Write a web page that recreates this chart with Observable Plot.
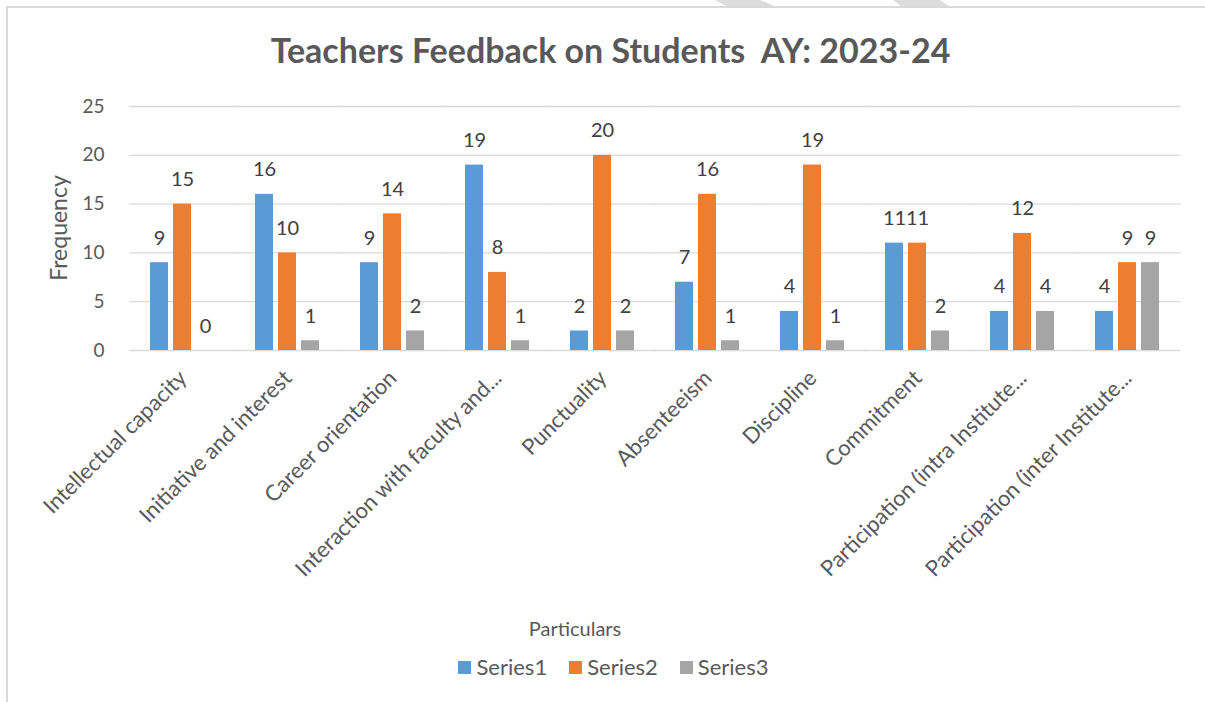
<!DOCTYPE html>
<html>
<head>
<meta charset="utf-8">
<script src="https://cdn.jsdelivr.net/npm/d3@7"></script>
<script src="https://cdn.jsdelivr.net/npm/@observablehq/plot@0.6"></script>
<style>
  html, body { margin: 0; padding: 0; background: #fff; }
  #wrap { position: relative; width: 1205px; height: 702px; overflow: hidden; font-family: Lato, "Open Sans", sans-serif; color: #595959; }
  #frameTop { position: absolute; left: 7px; top: 6px; width: 1198px; height: 1.5px; background: #d9d9d9; }
  #frameLeft { position: absolute; left: 6px; top: 6px; width: 2px; height: 696px; background: #d9d9d9; }
  #title { position: absolute; left: 8px; width: 1205px; top: 28px; text-align: center; font-weight: 700; font-size: 34px; line-height: 44px; color: #595959; white-space: pre; }
  #chart { position: absolute; left: 0; top: 0; }
  #ylabel { position: absolute; left: 58px; top: 228px; transform: translate(-50%, -50%) rotate(-90deg); font-size: 23px; white-space: nowrap; color: #595959; }
  #xlabel { position: absolute; left: 575px; top: 615px; transform: translateX(-50%); font-size: 20px; line-height: 26px; white-space: nowrap; color: #595959; }
  #legend { position: absolute; left: 11px; width: 1205px; top: 652px; display: flex; justify-content: center; gap: 22px; font-size: 22px; line-height: 30px; }
  #legend .item { display: flex; align-items: center; gap: 5px; color: #595959; }
  #legend .sw { width: 13px; height: 13px; display: inline-block; }
  #deco { position: absolute; left: 0; top: 0; }
</style>
</head>
<body>
<div id="wrap">
  <svg id="deco" width="1205" height="10"><polygon points="715,0 760,0 777,7 728,7" fill="#dcdcdc"/><polygon points="893,0 940,0 950,7 902,7" fill="#dcdcdc"/></svg>
  <div id="frameTop"></div>
  <div id="frameLeft"></div>
  <div id="title"></div>
  <div id="chart"></div>
  <div id="ylabel"></div>
  <div id="xlabel"></div>
  <div id="legend"></div>
</div>
<script>
const titleText = "Teachers Feedback on Students  AY: 2023-24";
const yLabel = "Frequency";
const xLabel = "Particulars";
const categories = [
  "Intellectual capacity",
  "Initiative and interest",
  "Career orientation",
  "Interaction with faculty and...",
  "Punctuality",
  "Absenteeism",
  "Discipline",
  "Commitment",
  "Participation (intra Institute...",
  "Participation (inter Institute..."
];
const seriesNames = ["Series1", "Series2", "Series3"];
const series1 = [9, 16, 9, 19, 2, 7, 4, 11, 4, 4];
const series2 = [15, 10, 14, 8, 20, 16, 19, 11, 12, 9];
const series3 = [0, 1, 2, 1, 2, 1, 1, 2, 4, 9];
const yTicks = [0, 5, 10, 15, 20, 25];
const colors = ["#5b9bd5", "#ed7d31", "#a5a5a5"];

const seriesValues = [series1, series2, series3];
const rows = categories.flatMap((c, i) =>
  seriesValues.map((arr, j) => ({cat: c, series: seriesNames[j], value: arr[i]}))
);

document.getElementById("title").textContent = titleText;
document.getElementById("ylabel").textContent = yLabel;
document.getElementById("xlabel").textContent = xLabel;

const legend = document.getElementById("legend");
seriesNames.forEach((s, i) => {
  const item = document.createElement("span");
  item.className = "item";
  const sw = document.createElement("span");
  sw.className = "sw";
  sw.style.background = colors[i];
  const t = document.createElement("span");
  t.textContent = s;
  item.appendChild(sw);
  item.appendChild(t);
  legend.appendChild(item);
});

const chart = Plot.plot({
  width: 1205,
  height: 600,
  marginTop: 106,
  marginBottom: 250,
  marginLeft: 128,
  marginRight: 23,
  style: {background: "transparent", fontFamily: "Lato", overflow: "visible"},
  fx: {domain: categories, paddingInner: 0.29, paddingOuter: 0.145, label: null},
  x: {domain: seriesNames, padding: 0.2, axis: null},
  y: {domain: [0, 25], label: null},
  color: {domain: seriesNames, range: colors},
  marks: [
    Plot.ruleY(yTicks, {stroke: "#d9d9d9", strokeWidth: 1.3, insetLeft: -15.6, insetRight: -15.6}),
    Plot.barY(rows, {fx: "cat", x: "series", y: "value", fill: "series"}),
    Plot.text(rows, {fx: "cat", x: "series", y: "value", text: d => String(d.value), lineAnchor: "bottom", dy: -18, fontSize: 20, fill: "#404040"}),
    Plot.axisY({ticks: yTicks, tickSize: 0, tickPadding: 41, fontSize: 19, fill: "#595959", label: null}),
    Plot.axisFx({anchor: "bottom", tickRotate: -45, tickSize: 0, tickPadding: 24, fontSize: 22, fill: "#595959", label: null})
  ]
});
document.getElementById("chart").appendChild(chart);
</script>
</body>
</html>
